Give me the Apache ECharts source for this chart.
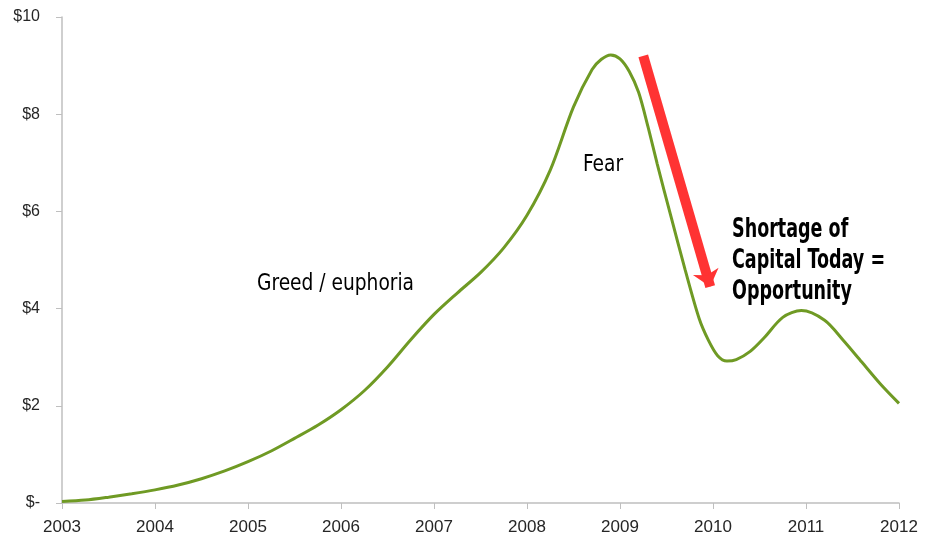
<!DOCTYPE html>
<html>
<head>
<meta charset="utf-8">
<script src="https://cdn.jsdelivr.net/npm/echarts@6/dist/echarts.min.js"></script>
<style>
  html, body { margin: 0; padding: 0; background: #fff; }
  #main { width: 925px; height: 536px; }
</style>
</head>
<body>
<div id="main"></div>
<script>
// points (year, value in $)
var years = [2003, 2003.25, 2003.5, 2003.75, 2004, 2004.25, 2004.5, 2004.75,
             2005, 2005.25, 2005.5, 2005.75, 2006, 2006.25, 2006.5, 2006.75,
             2007, 2007.25, 2007.5, 2007.75, 2008, 2008.25, 2008.5, 2008.7,
             2008.8, 2008.9, 2009, 2009.1, 2009.2, 2009.3, 2009.4, 2009.55,
             2009.7, 2009.85, 2009.95, 2010.05, 2010.15, 2010.25, 2010.4, 2010.55,
             2010.75, 2010.95, 2011.2, 2011.4, 2011.6, 2011.8, 2012];
var prices = [0.03, 0.06, 0.12, 0.19, 0.27, 0.37, 0.5, 0.66,
              0.85, 1.07, 1.33, 1.6, 1.92, 2.31, 2.8, 3.36,
              3.88, 4.32, 4.74, 5.25, 5.92, 6.85, 8.15, 8.92,
              9.13, 9.22, 9.14, 8.88, 8.45, 7.75, 6.98, 5.88,
              4.8, 3.8, 3.35, 3.03, 2.92, 2.95, 3.12, 3.4,
              3.82, 3.96, 3.76, 3.35, 2.9, 2.45, 2.05];
var yTicks = [0, 2, 4, 6, 8, 10];
// arrow drawn over the fall, from [year, value] to [year, value]
var arrowFrom = [2009.25, 9.2];
var arrowTo = [2009.97, 4.45];

var condensed = '"DejaVu Sans Condensed", "DejaVu Sans", sans-serif';

var chart = echarts.init(document.getElementById('main'));
chart.setOption({
    animation: false,
    grid: { left: 62, right: 26, top: 17, bottom: 33, containLabel: false },
    xAxis: {
        type: 'value',
        min: 2003,
        max: 2012,
        interval: 1,
        axisLine: { lineStyle: { color: '#bfbfbf', width: 1.5 } },
        axisTick: { show: true, length: 6, lineStyle: { color: '#bfbfbf' } },
        splitLine: { show: false },
        axisLabel: {
            margin: 16,
            color: '#262626',
            fontFamily: '"Liberation Sans", Arial, sans-serif',
            fontSize: 17,
            formatter: function (v) { return String(v); }
        }
    },
    yAxis: {
        type: 'value',
        min: yTicks[0],
        max: yTicks[yTicks.length - 1],
        interval: 2,
        axisLine: { show: true, lineStyle: { color: '#bfbfbf', width: 1.5 } },
        axisTick: { show: true, length: 6, lineStyle: { color: '#bfbfbf' } },
        splitLine: { show: false },
        axisLabel: {
            margin: 22,
            color: '#262626',
            fontFamily: '"Liberation Sans", Arial, sans-serif',
            fontSize: 16,
            formatter: function (v) { return v === 0 ? '$-' : '$' + v; }
        }
    },
    series: [{
        type: 'line',
        data: years.map(function (y, i) { return [y, prices[i]]; }),
        smooth: 0.3,
        showSymbol: false,
        lineStyle: { color: '#6f9a24', width: 3 },
        markLine: {
            silent: true,
            symbol: ['none', 'arrow'],
            symbolSize: [20, 16],
            label: { show: false },
            lineStyle: { color: '#ff3333', width: 10, type: 'solid' },
            data: [[{ coord: arrowFrom }, { coord: arrowTo }]]
        }
    }],
    graphic: [
        { type: 'text', x: 257, y: 273, scaleX: 0.9,
          style: { text: 'Greed / euphoria', font: '23px ' + condensed, fill: '#000', verticalAlign: 'top' } },
        { type: 'text', x: 583, y: 154, scaleX: 0.9,
          style: { text: 'Fear', font: '23px ' + condensed, fill: '#000', verticalAlign: 'top' } },
        { type: 'text', x: 732, y: 215, scaleX: 0.75,
          style: { text: 'Shortage of\nCapital Today =\nOpportunity', font: 'bold 26px ' + condensed,
                   fill: '#000', lineHeight: 31, verticalAlign: 'top' } }
    ]
});
</script>
</body>
</html>
